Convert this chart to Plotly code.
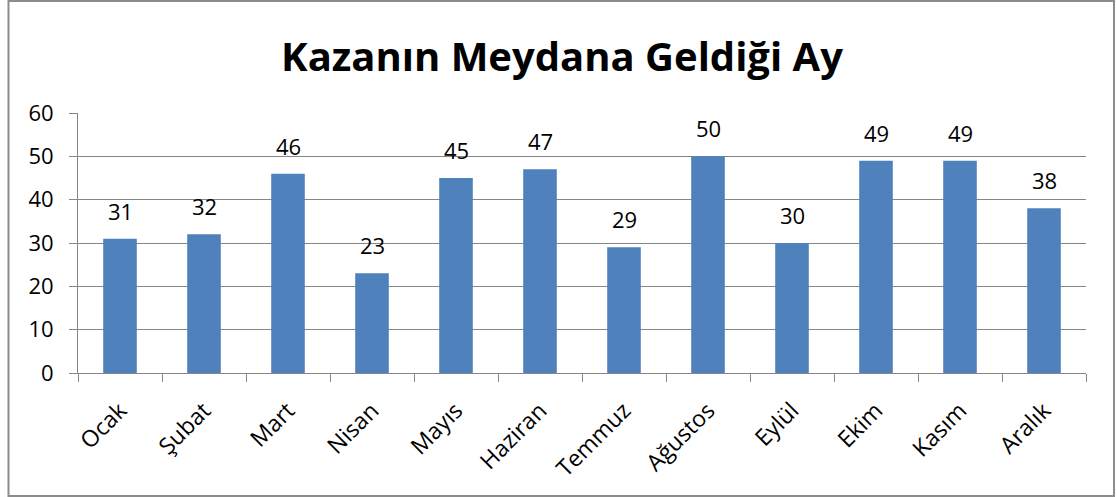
import plotly.graph_objects as go

months = ["Ocak", "Şubat", "Mart", "Nisan", "Mayıs", "Haziran", "Temmuz",
          "Ağustos", "Eylül", "Ekim", "Kasım", "Aralık"]
counts = [31, 32, 46, 23, 45, 47, 29, 50, 30, 49, 49, 38]
title_text = "Kazanın Meydana Geldiği Ay"

W, H = 1117, 497
L, R, T, B = 78, 31, 113, 124
pw = W - L - R
ph = H - T - B

def px(x):
    return (x - L) / pw

def py(y):
    return (H - B - y) / ph

FONT = "'Open Sans', Lato, sans-serif"

fig = go.Figure(go.Bar(
    x=months, y=counts,
    marker=dict(color="#4F81BD", line=dict(width=0)),
    cliponaxis=False,
))

annotations = [dict(x=m, y=v, xref="x", yref="y", text=str(v), showarrow=False,
                    yanchor="bottom", yshift=11,
                    font=dict(family=FONT, size=22, color="#000000"))
               for m, v in zip(months, counts)]

fig.update_layout(
    width=W, height=H,
    margin=dict(l=L, r=R, t=T, b=B, autoexpand=False),
    paper_bgcolor="white", plot_bgcolor="white",
    font=dict(family=FONT, color="#000000", size=22),
    bargap=0.6,
    showlegend=False,
    title=dict(text="<b>" + title_text + "</b>", x=px(562), xanchor="center",
               y=1 - 57 / H, yanchor="middle",
               xref="paper", yref="container",
               font=dict(family=FONT, size=40, color="#000000")),
    xaxis=dict(
        type="category", tickangle=-45, tickson="boundaries",
        ticks="outside", ticklen=8, tickcolor="#868686",
        showline=True, linecolor="#868686", linewidth=1,
        showgrid=False, tickfont=dict(size=23), ticklabelstandoff=14,
    ),
    yaxis=dict(
        range=[0, 60], dtick=10, tick0=0,
        ticks="outside", ticklen=8, tickcolor="#868686",
        showline=True, linecolor="#868686", linewidth=1,
        showgrid=True, gridcolor="#868686", gridwidth=1,
        zeroline=False, tickfont=dict(size=22), ticklabelstandoff=11,
    ),
    annotations=annotations,
    shapes=[dict(type="rect", xref="paper", yref="paper",
                 x0=px(8.5), x1=px(1114), y0=py(496), y1=py(1),
                 line=dict(color="#8C8C8C", width=2), fillcolor="rgba(0,0,0,0)",
                 layer="above")],
)

fig.write_html("out.html", config={"displayModeBar": False},
               post_script="document.body.style.margin='0';document.body.style.overflow='hidden';")
